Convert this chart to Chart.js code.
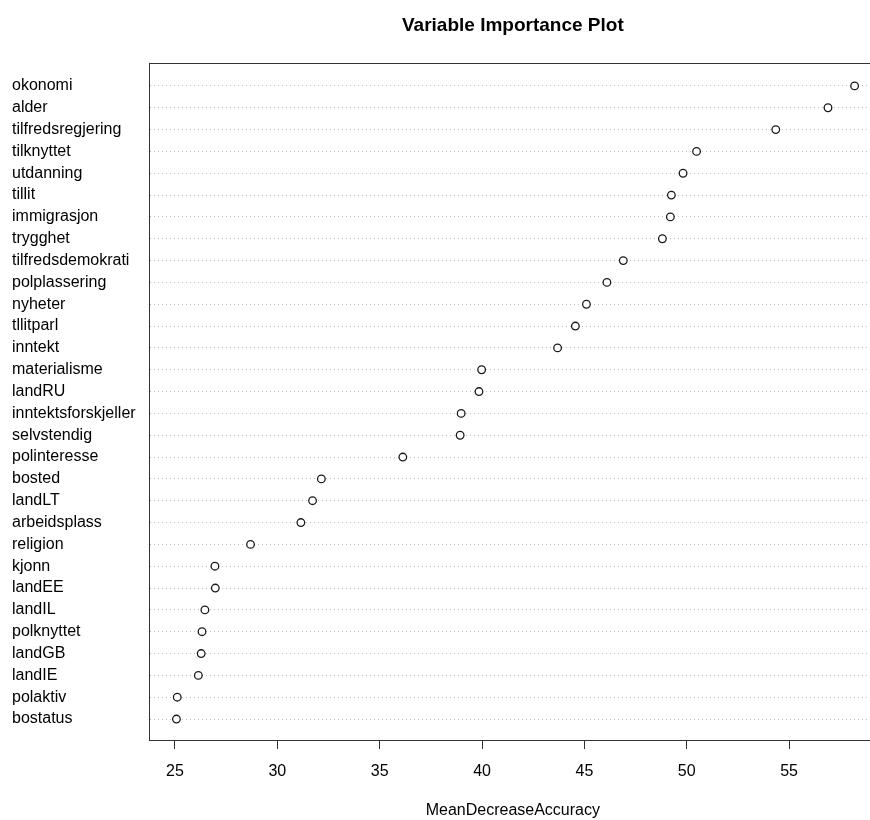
<!DOCTYPE html>
<html>
<head>
<meta charset="utf-8">
<script src="https://cdn.jsdelivr.net/npm/chart.js@4/dist/chart.umd.min.js"></script>
<style>
  html, body { margin: 0; padding: 0; background: #fff; }
  #wrap { width: 870px; height: 820px; overflow: hidden; position: relative; }
  canvas { display: block; }
</style>
</head>
<body>
<div id="wrap"><canvas id="c" width="882" height="820"></canvas></div>
<script>
// ---- data ----
const variables = ['okonomi','alder','tilfredsregjering','tilknyttet','utdanning','tillit','immigrasjon','trygghet','tilfredsdemokrati','polplassering','nyheter','tllitparl','inntekt','materialisme','landRU','inntektsforskjeller','selvstendig','polinteresse','bosted','landLT','arbeidsplass','religion','kjonn','landEE','landIL','polknyttet','landGB','landIE','polaktiv','bostatus'];
const meanDecreaseAccuracy = [58.2,56.9,54.35,50.48,49.82,49.25,49.2,48.81,46.9,46.1,45.1,44.56,43.69,39.98,39.85,38.98,38.93,36.13,32.15,31.72,31.15,28.69,26.95,26.97,26.46,26.32,26.28,26.14,25.11,25.07];
const xTicks = [25, 30, 35, 40, 45, 50, 55];
const titleText = 'Variable Importance Plot';
const xTitleText = 'MeanDecreaseAccuracy';

Chart.defaults.font.family = '"Liberation Sans", Arial, Helvetica, sans-serif';
Chart.defaults.color = '#000';

const points = meanDecreaseAccuracy.map((v, i) => ({ x: v, y: i + 1 }));

new Chart(document.getElementById('c'), {
  type: 'scatter',
  data: {
    datasets: [{
      data: points,
      pointStyle: 'circle',
      pointRadius: 3.8,
      pointBorderWidth: 1.3,
      pointBorderColor: '#1a1a1a',
      pointBackgroundColor: '#ffffff',
      xAxisID: 'x',
      yAxisID: 'y'
    }]
  },
  options: {
    responsive: false,
    animation: false,
    events: [],
    layout: { padding: { left: 12, right: 2, top: 0, bottom: 0 } },
    plugins: { legend: { display: false }, tooltip: { enabled: false }, title: { display: false } },
    scales: {
      x: {
        type: 'linear',
        position: 'bottom',
        min: 23.73,
        max: 59.28,
        afterBuildTicks: s => { s.ticks = xTicks.map(v => ({ value: v })); },
        afterFit: s => { s.height = 80; },
        ticks: { font: { size: 16 }, color: '#000', padding: 13, maxRotation: 0 },
        grid: { drawOnChartArea: false, drawTicks: true, tickLength: 9, tickColor: '#333', tickWidth: 1 },
        border: { display: true, color: '#333', width: 1 },
        title: { display: true, text: xTitleText, font: { size: 16 }, color: '#000', padding: { top: 0, bottom: 0 } }
      },
      x2: {
        type: 'linear',
        axis: 'x',
        position: 'top',
        min: 0, max: 1,
        afterFit: s => { s.height = 63; },
        ticks: { display: false },
        grid: { display: false, drawTicks: false },
        border: { display: true, color: '#333', width: 1 },
        title: { display: true, text: titleText, font: { size: 19, weight: 'bold' }, color: '#000', padding: { top: 14, bottom: 0 } }
      },
      y: {
        type: 'linear',
        position: 'left',
        reverse: true,
        min: -0.05,
        max: variables.length + 0.96,
        afterBuildTicks: s => { s.ticks = variables.map((_, i) => ({ value: i + 1 })); },
        afterFit: s => { s.width = 137; },
        ticks: {
          font: { size: 16 },
          color: '#000',
          crossAlign: 'far',
          padding: 0,
          autoSkip: false,
          callback: v => variables[v - 1] || ''
        },
        grid: { drawOnChartArea: true, drawTicks: false, color: '#bdbdbd', lineWidth: 1 },
        border: { display: true, color: '#333', width: 1, dash: [1, 3] }
      }
    }
  }
});
</script>
</body>
</html>
